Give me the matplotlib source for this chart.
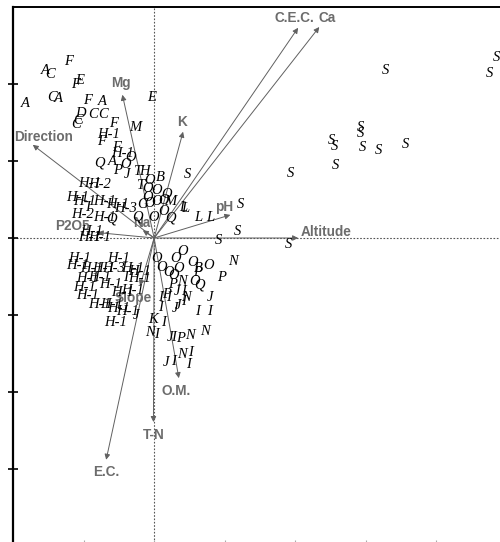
import matplotlib
matplotlib.use('Agg')
import matplotlib.pyplot as plt

# site scores (axis 1, axis 2) with their group labels
site_labels = ['A', 'C', 'F', 'F', 'E', 'C', 'A', 'A', 'F', 'A', 'D', 'C', 'C', 'C', 'C', 'E', 'F',
               'H-1', 'F', 'M', 'F', 'H-1', 'O', 'Q', 'A', 'O', 'P', 'J', 'T', 'H', 'O', 'B', 'T',
               'O', 'O', 'O', 'O', 'G', 'O', 'O', 'O', 'M', 'L', 'L', 'Q', 'O', 'O', 'Q', 'L', 'L', 'S']
site_x = [-1.55, -1.48, -1.22, -1.12, -1.05, -1.45, -1.36, -1.83, -0.95, -0.74, -1.04, -1.08, -1.11,
          -0.87, -0.72, -0.03, -0.58, -0.65, -0.74, -0.27, -0.54, -0.44, -0.34, -0.77, -0.60, -0.41,
          -0.52, -0.38, -0.24, -0.13, -0.06, 0.09, -0.20, -0.10, 0.04, 0.18, -0.10, -0.17, -0.06,
          0.04, 0.13, 0.23, 0.41, 0.44, 0.23, 0.13, -0.01, -0.23, 0.62, 0.79, 0.47]
site_y = [2.18, 2.12, 2.29, 1.99, 2.05, 1.83, 1.81, 1.75, 1.79, 1.77, 1.62, 1.53, 1.48, 1.60, 1.60,
          1.83, 1.49, 1.34, 1.25, 1.43, 1.17, 1.10, 1.04, 0.97, 0.99, 0.95, 0.88, 0.82, 0.86, 0.86,
          0.75, 0.79, 0.68, 0.64, 0.62, 0.57, 0.52, 0.43, 0.45, 0.47, 0.49, 0.47, 0.39, 0.38, 0.26,
          0.34, 0.27, 0.27, 0.26, 0.26, 0.82]

h_labels = ['H-2', 'H-1', 'H-1', 'H-1', 'H-1', 'H-1', 'H-3', 'H-2', 'H-1', 'Q', 'H-1', 'H-1', 'H-1', 'I',
            'H-1', 'H-1', 'H-1', 'H-1', 'H-1', 'H-3', 'H-1', 'H-1', 'H-1', 'H-1', 'I', 'H-1', 'H-1',
            'H-1', 'H-1', 'H-1', 'H-1', 'H-1', 'H-1', 'H-1', 'H-1', 'J', 'H-1']
h_x = [-0.77, -0.91, -1.09, -0.98, -0.70, -0.52, -0.41, -1.02, -0.70, -0.60, -0.88, -0.77, -0.91, -0.94,
       -1.05, -0.51, -1.08, -0.88, -0.72, -0.58, -0.30, -0.20, -0.95, -0.77, -0.40, -0.20, -0.99,
       -0.62, -0.31, -0.94, -0.45, -0.77, -0.60, -0.51, -0.37, -0.26, -0.55]
h_y = [0.69, 0.71, 0.52, 0.47, 0.47, 0.43, 0.38, 0.30, 0.27, 0.25, 0.08, 0.01, 0.00, 0.39,
       -0.26, -0.26, -0.36, -0.39, -0.39, -0.39, -0.39, -0.44, -0.52, -0.51, -0.51, -0.53, -0.64,
       -0.61, -0.68, -0.75, -0.71, -0.87, -0.87, -0.91, -0.96, -1.00, -1.10]

low_labels = ['O', 'O', 'O', 'O', 'O', 'O', 'O', 'O', 'B', 'O', 'P', 'N', 'P', 'Q', 'O', 'N', 'P', 'I',
              'P', 'I', 'J', 'I', 'N', 'J', 'I', 'J', 'J', 'I', 'I', 'I', 'K', 'I', 'N', 'I', 'N', 'J',
              'I', 'P', 'N', 'J', 'I', 'N', 'I', 'I']
low_x = [0.04, 0.11, 0.40, 0.30, 0.34, 0.20, 0.27, 0.55, 0.62, 0.77, 0.96, 1.12, 0.61, 0.64, 0.58, 0.40,
         0.26, 0.09, 0.17, 0.20, 0.33, 0.41, 0.45, 0.79, 0.09, 0.30, 0.34, 0.41, 0.61, 0.79, -0.01, 0.13,
         -0.06, 0.04, 0.72, 0.23, 0.28, 0.37, 0.51, 0.17, 0.27, 0.40, 0.52, 0.48]
low_y = [-0.26, -0.38, -0.18, -0.26, -0.39, -0.45, -0.49, -0.32, -0.39, -0.36, -0.51, -0.31, -0.45,
         -0.61, -0.57, -0.57, -0.60, -0.77, -0.74, -0.77, -0.70, -0.70, -0.77, -0.77, -0.90, -0.91,
         -0.88, -0.83, -0.96, -0.96, -1.06, -1.10, -1.23, -1.25, -1.22, -1.29, -1.29, -1.30, -1.27,
         -1.62, -1.61, -1.51, -1.49, -1.64]

s_x = [3.28, 4.85, 4.75, 2.92, 2.92, 2.52, 2.55, 2.95, 3.18, 3.56, 2.57, 1.93, 1.22, 0.91, 1.18, 1.90]
s_y = [2.18, 2.35, 2.14, 1.43, 1.36, 1.27, 1.19, 1.17, 1.14, 1.21, 0.94, 0.84, 0.43, -0.03, 0.08, -0.09]

# environmental variables: arrow tips and label positions
env_names = ['C.E.C.', 'Ca', 'Mg', 'Direction', 'K', 'pH', 'Altitude', 'Na', 'P2O5', 'Slope',
             'O.M.', 'T-N', 'E.C.']
env_x = [2.04, 2.34, -0.45, -1.72, 0.41, 1.08, 2.04, -0.16, -0.80, -0.20, 0.35, -0.01, -0.68]
env_y = [2.73, 2.74, 1.86, 1.21, 1.38, 0.30, 0.00, 0.10, 0.07, -0.62, -1.82, -2.39, -2.88]
lab_x = [1.99, 2.45, -0.47, -1.56, 0.40, 0.99, 2.44, -0.18, -1.16, -0.30, 0.31, -0.01, -0.68]
lab_y = [2.86, 2.86, 2.01, 1.31, 1.51, 0.40, 0.08, 0.19, 0.16, -0.78, -1.99, -2.56, -3.04]

fig = plt.figure(figsize=(5.0, 5.42), dpi=100)
ax = fig.add_axes([0.026, -0.0074, 0.988, 0.9945])
ax.set_xlim(-2, 5)
ax.set_ylim(-4, 3)

ax.axvline(0, color='#555555', lw=0.8, ls=(0, (1.5, 1.5)), zorder=1)
ax.axhline(0, color='#555555', lw=0.8, ls=(0, (1.5, 1.5)), zorder=1)

for name, x, y, lx, ly in zip(env_names, env_x, env_y, lab_x, lab_y):
    ax.annotate('', xy=(x, y), xytext=(0, 0),
                arrowprops=dict(arrowstyle='-|>', color='#606060', lw=0.7,
                                mutation_scale=8, shrinkA=0, shrinkB=0), zorder=2)
    ax.text(lx, ly, name, ha='center', va='center', fontsize=9.8, fontweight='bold',
            family='Liberation Sans', color='#6c6c6c', zorder=3)

serif = dict(ha='center', va='center', fontsize=10.5, style='italic',
             family='Liberation Serif', color='black', zorder=4)
for lab, x, y in zip(site_labels, site_x, site_y):
    ax.text(x, y, lab, **serif)
for lab, x, y in zip(h_labels, h_x, h_y):
    ax.text(x, y, lab, **serif)
for lab, x, y in zip(low_labels, low_x, low_y):
    ax.text(x, y, lab, **serif)
for x, y in zip(s_x, s_y):
    ax.text(x, y, 'S', **serif)

ax.spines['right'].set_visible(False)
ax.spines['left'].set_linewidth(1.6)
ax.spines['top'].set_linewidth(1.4)
ax.set_yticks([-3, -2, -1, 0, 1, 2])
ax.set_xticks([-1, 0, 1, 2, 3, 4])
ax.tick_params(axis='y', direction='inout', length=7, width=1.2, labelleft=False)
ax.tick_params(axis='x', direction='inout', length=8, width=0.8, color='#aaaaaa', labelbottom=False)

fig.savefig('out.png', dpi=100)
